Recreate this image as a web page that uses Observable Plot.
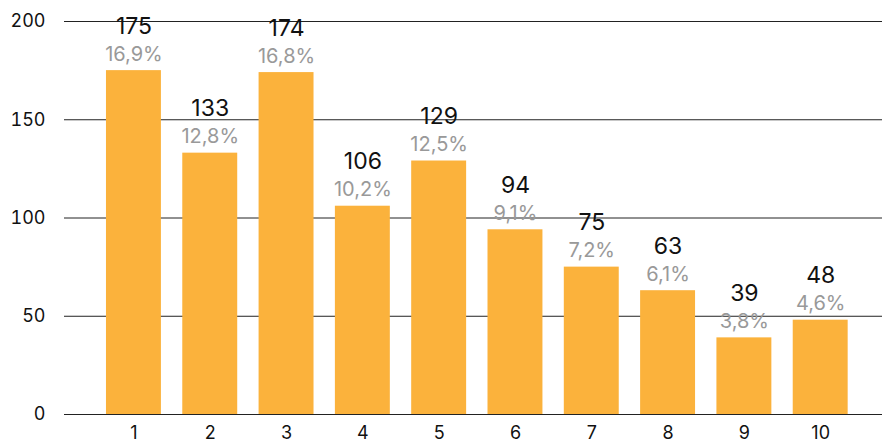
<!DOCTYPE html>
<html>
<head>
<meta charset="utf-8">
<script src="https://cdn.jsdelivr.net/npm/d3@7"></script>
<script src="https://cdn.jsdelivr.net/npm/@observablehq/plot@0.6"></script>
<style>
  html, body { margin: 0; padding: 0; background: #fff; }
  #chart svg { display: block; }
</style>
</head>
<body>
<div id="chart"></div>
<script>
const categories = ["1","2","3","4","5","6","7","8","9","10"];
const values = [175,133,174,106,129,94,75,63,39,48];
const percentLabels = ["16,9%","12,8%","16,8%","10,2%","12,5%","9,1%","7,2%","6,1%","3,8%","4,6%"];
const yTicks = [0,50,100,150,200];

const data = categories.map((c, i) => ({cat: c, value: values[i], pct: percentLabels[i]}));

const chart = Plot.plot({
  width: 882,
  height: 443,
  marginTop: 21,
  marginBottom: 29,
  marginLeft: 64,
  marginRight: 0,
  style: {fontFamily: "Inter, 'Noto Sans', sans-serif", fontSize: "18px", color: "#111", background: "#fff"},
  x: {domain: categories, paddingInner: 0.28, paddingOuter: 0.5, align: 0.55, round: false, label: null, tickSize: 0, tickPadding: 12},
  y: {domain: [0, 200], ticks: yTicks, label: null, tickSize: 0, tickPadding: 19},
  marks: [
    Plot.ruleY(yTicks, {stroke: "#222", strokeWidth: 1}),
    Plot.barY(data, {x: "cat", y: "value", fill: "#FBB23C"}),
    Plot.text(data, {x: "cat", y: "value", text: d => String(d.value), lineAnchor: "bottom", dy: -37, fontSize: 23, fill: "#111"}),
    Plot.text(data, {x: "cat", y: "value", text: "pct", lineAnchor: "bottom", dy: -10, fontSize: 20, fill: "#999"})
  ]
});
document.getElementById("chart").appendChild(chart);
</script>
</body>
</html>
